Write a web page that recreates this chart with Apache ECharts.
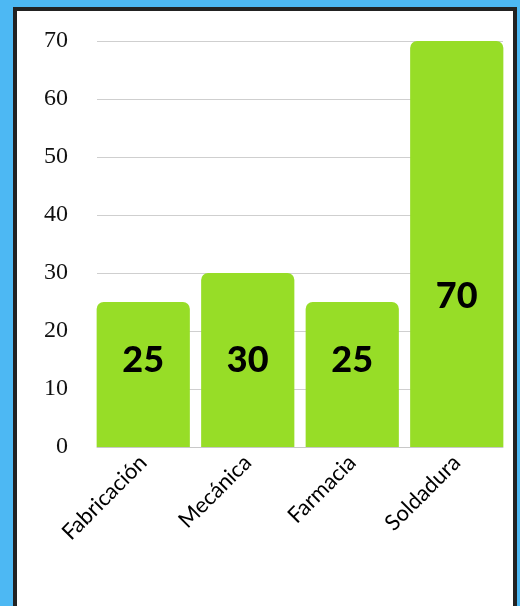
<!DOCTYPE html>
<html>
<head>
<meta charset="utf-8">
<script src="https://cdn.jsdelivr.net/npm/echarts@6/dist/echarts.min.js"></script>
<style>
  html, body { margin: 0; padding: 0; }
  body { width: 520px; height: 606px; background: #4db8f3; position: relative; overflow: hidden; }
  .frame {
    position: absolute; left: 13px; top: 7px; width: 496px; height: 620px;
    background: #fff; border: 4px solid #222;
  }
  #chart { position: absolute; left: 0; top: 0; width: 520px; height: 606px; }
</style>
</head>
<body>
<div class="frame"></div>
<div id="chart"></div>
<script>
// datos del gráfico
const categories = ['Fabricación', 'Mecánica', 'Farmacia', 'Soldadura']
const values = [25, 30, 25, 70]
// altura (en unidades del eje) donde va cada etiqueta de valor
const labelHeights = [15, 15, 15, 26]
const yTicks = [0, 10, 20, 30, 40, 50, 60, 70]

const chart = echarts.init(document.getElementById('chart'))
chart.setOption({
  animation: false,
  grid: [
    // grid de las barras (un poco más ancho para que las barras toquen los bordes)
    { left: 91, right: 11, top: 41, bottom: 159 },
    // grid de las líneas y etiquetas del eje y
    { left: 97, right: 17, top: 41, bottom: 159 },
  ],
  xAxis: [
    {
      type: 'category',
      gridIndex: 0,
      data: categories,
      axisLine: { show: false },
      axisTick: { show: false },
      axisLabel: {
        rotate: 45,
        margin: 12,
        color: '#000',
        fontFamily: 'Lato',
        fontSize: 22,
      },
    },
    {
      type: 'category',
      gridIndex: 1,
      data: categories,
      axisLine: { show: true, lineStyle: { color: '#c8c8c8', width: 1 } },
      axisTick: { show: false },
      axisLabel: { show: false },
    },
  ],
  yAxis: [
    { type: 'value', gridIndex: 0, min: 0, max: 70, interval: 10, show: false },
    {
      type: 'value',
      gridIndex: 1,
      min: yTicks[0],
      max: yTicks[yTicks.length - 1],
      interval: 10,
      axisLine: { show: false },
      axisTick: { show: false },
      splitLine: { lineStyle: { color: '#cfcfcf', width: 1 } },
      axisLabel: {
        margin: 29,
        color: '#111',
        fontFamily: 'Liberation Serif',
        fontSize: 24,
      },
    },
  ],
  series: [
    {
      type: 'bar',
      xAxisIndex: 0,
      yAxisIndex: 0,
      data: values,
      barCategoryGap: '10.8%',
      itemStyle: { color: '#97dd27', borderRadius: [7, 7, 0, 0] },
    },
    {
      type: 'scatter',
      xAxisIndex: 0,
      yAxisIndex: 0,
      symbolSize: 0,
      itemStyle: { opacity: 1 },
      data: categories.map((c, i) => [c, labelHeights[i]]),
      label: {
        show: true,
        position: 'inside',
        formatter: (p) => values[p.dataIndex],
        color: '#000',
        opacity: 1,
        textBorderWidth: 0,
        fontFamily: 'Lato',
        fontWeight: 900,
        fontSize: 36,
      },
    },
  ],
})
</script>
</body>
</html>
